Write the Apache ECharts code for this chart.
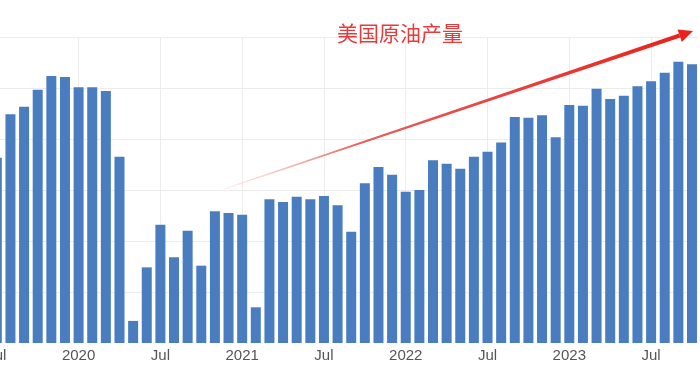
<!DOCTYPE html>
<html>
<head>
<meta charset="utf-8">
<title>美国原油产量</title>
<script src="https://cdn.jsdelivr.net/npm/echarts@6/dist/echarts.min.js"></script>
<style>
  html, body { margin: 0; padding: 0; background: #fff; overflow: hidden; }
  /* 左侧被裁掉一截：容器向左偏移10px */
  #main { position: absolute; left: -10px; top: 0; width: 711px; height: 384px; }
</style>
</head>
<body>
<div id="main"></div>
<script>
// 月份（2019年7月 ~ 2023年10月）
var months = [
  '2019-07','2019-08','2019-09','2019-10','2019-11','2019-12',
  '2020-01','2020-02','2020-03','2020-04','2020-05','2020-06',
  '2020-07','2020-08','2020-09','2020-10','2020-11','2020-12',
  '2021-01','2021-02','2021-03','2021-04','2021-05','2021-06',
  '2021-07','2021-08','2021-09','2021-10','2021-11','2021-12',
  '2022-01','2022-02','2022-03','2022-04','2022-05','2022-06',
  '2022-07','2022-08','2022-09','2022-10','2022-11','2022-12',
  '2023-01','2023-02','2023-03','2023-04','2023-05','2023-06',
  '2023-07','2023-08','2023-09','2023-10'
];
// 产量（千桶/日，从图上估读）
var output = [
  11780, 12290, 12380, 12580, 12740, 12730,
  12610, 12610, 12565, 11790, 9860, 10490,
  10990, 10610, 10920, 10510, 11150, 11130,
  11110, 10020, 11290, 11260, 11320, 11290,
  11330, 11220, 10910, 11480, 11670, 11580,
  11380, 11400, 11750, 11710, 11650, 11790,
  11850, 11960, 12260, 12250, 12280, 12020,
  12400, 12390, 12590, 12470, 12510, 12620,
  12680, 12780, 12910, 12880
];
// 刻度文字：1月显示年份，7月显示Jul
function tickLabel(m) {
  var p = m.split('-');
  if (p[1] === '01') return p[0];
  if (p[1] === '07') return 'Jul';
  return '';
}

var chart = echarts.init(document.getElementById('main'));

// 红色箭头（注释），容器偏移了10px，所以横坐标+10
var arrowGrad = new echarts.graphic.LinearGradient(0, 0, 1, 0, [
  { offset: 0, color: 'rgba(235,120,120,0.12)' },
  { offset: 0.3, color: 'rgba(226,40,36,0.75)' },
  { offset: 1, color: '#e8231b' }
]);

var option = {
  animation: false,
  backgroundColor: '#fff',
  title: {
    text: '美国原油产量',
    left: 342,
    top: 18,
    textStyle: {
      fontFamily: 'Noto Sans CJK SC',
      fontSize: 21,
      fontWeight: 'normal',
      color: '#e23c3c'
    }
  },
  grid: {
    left: 0, right: 2.2, top: 37, bottom: 41,
    containLabel: false,
    outerBoundsMode: 'none'
  },
  xAxis: {
    type: 'category',
    data: months,
    axisLine: { show: false },
    axisTick: { show: false },
    axisLabel: {
      interval: 5,
      margin: 5,
      formatter: tickLabel,
      color: '#555',
      fontSize: 15,
      fontFamily: 'Liberation Sans'
    },
    splitLine: {
      show: true,
      interval: 5,
      alignWithLabel: true,
      lineStyle: { color: '#ececec', width: 1 }
    }
  },
  yAxis: {
    type: 'value',
    min: 9600,
    max: 13200,
    interval: 600,
    axisLine: { show: false },
    axisTick: { show: false },
    axisLabel: { show: false },
    splitLine: { showMinLine: false, lineStyle: { color: '#ececec', width: 1 } }
  },
  series: [{
    type: 'bar',
    data: output,
    barWidth: 10,
    itemStyle: { color: '#4a7dc0' }
  }],
  graphic: [
    {
      type: 'polygon',
      z: 10,
      shape: { points: [[234.2, 189.4], [233.8, 188.6], [689.0, 33.6], [690.4, 37.6]] },
      style: { fill: arrowGrad }
    },
    {
      type: 'polygon',
      z: 10,
      shape: { points: [[703, 31], [691.8, 42.0], [687.6, 29.4]] },
      style: { fill: '#e8231b' }
    }
  ]
};

chart.setOption(option);
</script>
</body>
</html>
